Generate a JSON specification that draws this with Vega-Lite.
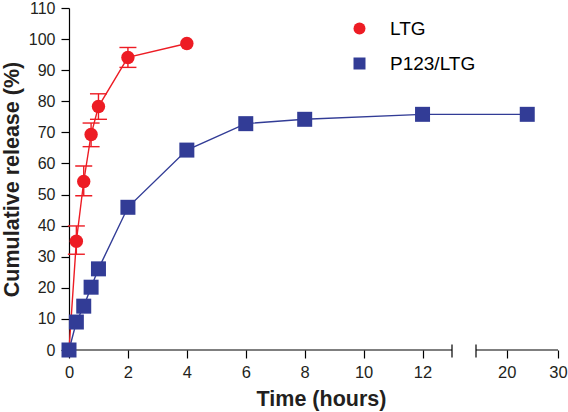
{
  "$schema": "https://vega.github.io/schema/vega-lite/v6.json",
  "width": 491,
  "height": 342,
  "autosize": {"type": "none"},
  "padding": {"left": 69, "top": 8, "right": 8, "bottom": 62},
  "config": {
    "view": {"stroke": null},
    "font": "Liberation Sans",
    "axis": {"grid": false},
    "axisY": {
      "domainColor": "black",
      "domainWidth": 1.2,
      "tickColor": "black",
      "tickWidth": 1.2,
      "tickSize": 8,
      "labelFontSize": 16,
      "labelColor": "#231f20",
      "labelPadding": 6,
      "labelOverlap": false,
      "labelFlush": false,
      "titleFontSize": 21.5,
      "titleFontWeight": "bold",
      "titleColor": "#231f20",
      "titlePadding": 5
    },
    "axisX": {
      "domain": false,
      "tickColor": "black",
      "tickWidth": 1.2,
      "tickSize": 8,
      "labelFontSize": 16.5,
      "labelColor": "#231f20",
      "labelPadding": 6,
      "labelFlush": false,
      "labelOverlap": false,
      "titleFontSize": 21.5,
      "titleFontWeight": "bold",
      "titleColor": "#231f20",
      "titlePadding": 8
    }
  },
  "data": {
    "values": [
      {"series": "LTG", "time": 0, "release": 0},
      {"series": "LTG", "time": 0.25, "release": 35.0, "lo": 30.8, "hi": 39.9},
      {"series": "LTG", "time": 0.5, "release": 54.2, "lo": 49.6, "hi": 59.2},
      {"series": "LTG", "time": 0.75, "release": 69.3, "lo": 65.4, "hi": 73.0},
      {"series": "LTG", "time": 1, "release": 78.3, "lo": 74.2, "hi": 82.4},
      {"series": "LTG", "time": 2, "release": 94.1, "lo": 90.9, "hi": 97.3},
      {"series": "LTG", "time": 4, "release": 98.6},
      {"series": "P123/LTG", "time": 0, "release": 0},
      {"series": "P123/LTG", "time": 0.25, "release": 9.0},
      {"series": "P123/LTG", "time": 0.5, "release": 14.1},
      {"series": "P123/LTG", "time": 0.75, "release": 20.2},
      {"series": "P123/LTG", "time": 1, "release": 26.1},
      {"series": "P123/LTG", "time": 2, "release": 45.9},
      {"series": "P123/LTG", "time": 4, "release": 64.3},
      {"series": "P123/LTG", "time": 6, "release": 72.8},
      {"series": "P123/LTG", "time": 8, "release": 74.2},
      {"series": "P123/LTG", "time": 12, "release": 75.8},
      {"series": "P123/LTG", "time": 24, "release": 75.8}
    ]
  },
  "layer": [
    {
      "transform": [{"filter": "datum.series === 'P123/LTG'"}],
      "mark": {"type": "line", "strokeWidth": 1.4, "color": "#323c96"},
      "encoding": {
        "x": {
          "field": "time",
          "type": "quantitative",
          "scale": {"domain": [0, 13, 14, 30], "range": [0, 383, 407, 489], "nice": false, "zero": false},
          "axis": {
            "values": [0, 2, 4, 6, 8, 10, 12, 20, 30],
            "title": "Time (hours)",
            "titleX": 252,
            "titleAlign": "center"
          }
        },
        "y": {
          "field": "release",
          "type": "quantitative",
          "scale": {"domain": [0, 110], "nice": false},
          "axis": {
            "values": [0, 10, 20, 30, 40, 50, 60, 70, 80, 90, 100, 110],
            "title": "Cumulative release (%)"
          }
        }
      }
    },
    {
      "transform": [{"filter": "datum.series === 'LTG'"}],
      "mark": {"type": "line", "strokeWidth": 1.4, "color": "#ed1c24"},
      "encoding": {
        "x": {"field": "time", "type": "quantitative"},
        "y": {"field": "release", "type": "quantitative", "axis": {"values": [0, 10, 20, 30, 40, 50, 60, 70, 80, 90, 100, 110], "title": "Cumulative release (%)"}}
      }
    },
    {
      "data": {"values": [{}]},
      "mark": {"type": "rule", "color": "black", "strokeWidth": 1.2},
      "encoding": {"x": {"datum": 0}, "x2": {"datum": 13}, "y": {"datum": 0, "axis": {"values": [0, 10, 20, 30, 40, 50, 60, 70, 80, 90, 100, 110]}}}
    },
    {
      "data": {"values": [{}]},
      "mark": {"type": "rule", "color": "black", "strokeWidth": 1.2},
      "encoding": {"x": {"datum": 14}, "x2": {"datum": 30}, "y": {"datum": 0, "axis": {"values": [0, 10, 20, 30, 40, 50, 60, 70, 80, 90, 100, 110]}}}
    },
    {
      "data": {"values": [{}]},
      "mark": {"type": "tick", "orient": "vertical", "size": 13, "thickness": 1.2, "color": "black", "opacity": 1, "yOffset": 1},
      "encoding": {"x": {"datum": 13}, "y": {"datum": 0, "axis": {"values": [0, 10, 20, 30, 40, 50, 60, 70, 80, 90, 100, 110]}}}
    },
    {
      "data": {"values": [{}]},
      "mark": {"type": "tick", "orient": "vertical", "size": 13, "thickness": 1.2, "color": "black", "opacity": 1, "yOffset": 1},
      "encoding": {"x": {"datum": 14}, "y": {"datum": 0, "axis": {"values": [0, 10, 20, 30, 40, 50, 60, 70, 80, 90, 100, 110]}}}
    },
    {
      "transform": [{"filter": "isValid(datum.lo)"}],
      "mark": {"type": "rule", "color": "#ed1c24", "strokeWidth": 1.4},
      "encoding": {
        "x": {"field": "time", "type": "quantitative"},
        "y": {"field": "lo", "type": "quantitative", "axis": {"values": [0, 10, 20, 30, 40, 50, 60, 70, 80, 90, 100, 110], "title": "Cumulative release (%)"}},
        "y2": {"field": "hi"}
      }
    },
    {
      "transform": [{"filter": "isValid(datum.lo)"}],
      "mark": {"type": "tick", "orient": "horizontal", "size": 17, "thickness": 1.4, "color": "#ed1c24", "opacity": 1},
      "encoding": {
        "x": {"field": "time", "type": "quantitative"},
        "y": {"field": "lo", "type": "quantitative", "axis": {"values": [0, 10, 20, 30, 40, 50, 60, 70, 80, 90, 100, 110], "title": "Cumulative release (%)"}}
      }
    },
    {
      "transform": [{"filter": "isValid(datum.hi)"}],
      "mark": {"type": "tick", "orient": "horizontal", "size": 17, "thickness": 1.4, "color": "#ed1c24", "opacity": 1},
      "encoding": {
        "x": {"field": "time", "type": "quantitative"},
        "y": {"field": "hi", "type": "quantitative", "axis": {"values": [0, 10, 20, 30, 40, 50, 60, 70, 80, 90, 100, 110], "title": "Cumulative release (%)"}}
      }
    },
    {
      "transform": [{"filter": "datum.series === 'LTG'"}],
      "mark": {"type": "point", "filled": true, "opacity": 1, "size": 180},
      "encoding": {
        "x": {"field": "time", "type": "quantitative"},
        "y": {"field": "release", "type": "quantitative", "axis": {"values": [0, 10, 20, 30, 40, 50, 60, 70, 80, 90, 100, 110], "title": "Cumulative release (%)"}},
        "color": {
          "field": "series",
          "type": "nominal",
          "scale": {"domain": ["LTG", "P123/LTG"], "range": ["#ed1c24", "#323c96"]},
          "legend": {
            "orient": "none",
            "legendX": 281,
            "legendY": 11,
            "title": null,
            "padding": 0,
            "symbolSize": 144,
            "labelFontSize": 19,
            "labelOffset": 21,
            "rowPadding": 15
          }
        },
        "shape": {
          "field": "series",
          "type": "nominal",
          "scale": {"domain": ["LTG", "P123/LTG"], "range": ["circle", "square"]}
        }
      }
    },
    {
      "transform": [{"filter": "datum.series === 'P123/LTG'"}],
      "mark": {"type": "point", "filled": true, "opacity": 1, "size": 225},
      "encoding": {
        "x": {"field": "time", "type": "quantitative"},
        "y": {"field": "release", "type": "quantitative", "axis": {"values": [0, 10, 20, 30, 40, 50, 60, 70, 80, 90, 100, 110], "title": "Cumulative release (%)"}},
        "color": {
          "field": "series",
          "type": "nominal",
          "scale": {"domain": ["LTG", "P123/LTG"], "range": ["#ed1c24", "#323c96"]},
          "legend": {
            "orient": "none",
            "legendX": 281,
            "legendY": 11,
            "title": null,
            "padding": 0,
            "symbolSize": 144,
            "labelFontSize": 19,
            "labelOffset": 21,
            "rowPadding": 15
          }
        },
        "shape": {
          "field": "series",
          "type": "nominal",
          "scale": {"domain": ["LTG", "P123/LTG"], "range": ["circle", "square"]}
        }
      }
    }
  ]
}
